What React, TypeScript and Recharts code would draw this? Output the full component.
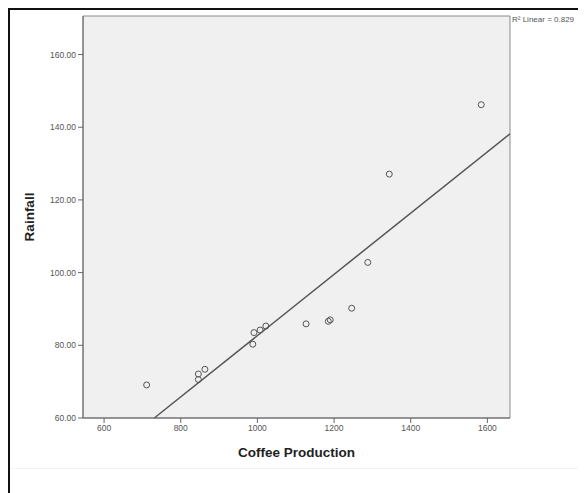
import {
  CartesianGrid,
  ReferenceArea,
  ReferenceLine,
  Scatter,
  ScatterChart,
  XAxis,
  YAxis,
} from 'recharts'

// coffee production vs rainfall
const production = [711, 846, 846, 863, 988, 991, 1007, 1022, 1127, 1185, 1190, 1246, 1288, 1344, 1584]
const rainfall = [69.1, 70.6, 72.1, 73.4, 80.3, 83.5, 84.2, 85.3, 85.9, 86.6, 87.0, 90.2, 102.8, 127.1, 146.2]
const xTicks = [600, 800, 1000, 1200, 1400, 1600]
const yTicks = [60, 80, 100, 120, 140, 160]
const xDomain = [545, 1659]
const yDomain = [60, 170.6]

const points = production.map((x, i) => ({ x, y: rainfall[i] }))

// least squares fit
function linearFit(xs: number[], ys: number[]) {
  const n = xs.length
  const mx = xs.reduce((a, b) => a + b, 0) / n
  const my = ys.reduce((a, b) => a + b, 0) / n
  let sxy = 0
  let sxx = 0
  xs.forEach((x, i) => {
    sxy += (x - mx) * (ys[i] - my)
    sxx += (x - mx) * (x - mx)
  })
  const slope = sxy / sxx
  return { slope, intercept: my - slope * mx }
}

const fit = linearFit(production, rainfall)
const fitStart = (yDomain[0] - fit.intercept) / fit.slope
const fitEnd = xDomain[1]

const FONT = '"Liberation Sans", Arial, sans-serif'
const tickStyle = { fontSize: 8.5, fill: '#555', fontFamily: FONT }
const titleStyle = { fontSize: 13.5, fontWeight: 'bold', fill: '#222', fontFamily: FONT }

const Ring = (props: any) => (
  <circle cx={props.cx} cy={props.cy} r={3} fill="none" stroke="#555" strokeWidth={1} />
)

export default function App() {
  return (
    <div
      style={{
        position: 'relative',
        width: 576,
        height: 483,
        borderTop: '2px solid #111',
        borderLeft: '2px solid #111',
        overflow: 'hidden',
        fontFamily: FONT,
      }}
    >
      <ScatterChart width={576} height={483} margin={{ top: 6, right: 76, bottom: 25, left: 13 }}>
        <CartesianGrid fill="#f0f0f0" horizontal={false} vertical={false} />
        <XAxis
          type="number"
          dataKey="x"
          domain={xDomain}
          ticks={xTicks}
          allowDataOverflow
          height={50}
          stroke="#666"
          tickSize={5}
          tick={tickStyle}
          label={{ value: 'Coffee Production', position: 'insideBottom', offset: 11, style: titleStyle }}
        />
        <YAxis
          type="number"
          dataKey="y"
          domain={yDomain}
          ticks={yTicks}
          allowDataOverflow
          width={60}
          stroke="#666"
          tickSize={5}
          tick={tickStyle}
          tickFormatter={(v) => Number(v).toFixed(2)}
          label={{ value: 'Rainfall', angle: -90, position: 'center', dx: -24, style: titleStyle }}
        />
        <ReferenceArea
          x1={xDomain[0]}
          x2={xDomain[1]}
          y1={yDomain[0]}
          y2={yDomain[1]}
          fill="none"
          stroke="#8a8a8a"
          strokeWidth={1}
          ifOverflow="visible"
        />
        <ReferenceLine
          segment={[
            { x: fitStart, y: fit.intercept + fit.slope * fitStart },
            { x: fitEnd, y: fit.intercept + fit.slope * fitEnd },
          ]}
          stroke="#555"
          strokeWidth={1.5}
          ifOverflow="visible"
        />
        <Scatter data={points} shape={Ring} isAnimationActive={false} />
      </ScatterChart>
      <div
        style={{
          position: 'absolute',
          left: 502,
          top: 5,
          fontSize: 8,
          color: '#555',
          whiteSpace: 'nowrap',
        }}
      >
        R² Linear = 0.829
      </div>
      <div style={{ position: 'absolute', left: 0, top: 458, width: 576, height: 1, background: '#f2f2f2' }} />
    </div>
  )
}
